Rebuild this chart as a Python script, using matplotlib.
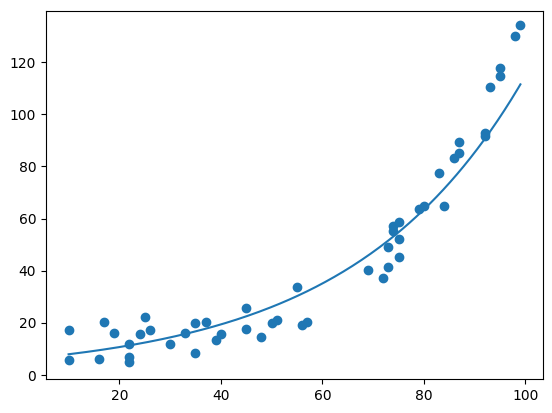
import numpy as np
import matplotlib
matplotlib.use("Agg")
import matplotlib.pyplot as plt

# Datos
x = [10, 10, 16, 17, 19, 22, 22, 22, 24, 25, 26, 30, 33, 35, 35, 37, 39, 40,
     45, 45, 48, 50, 51, 55, 56, 57, 69, 72, 73, 73, 75, 75, 74, 74, 75,
     79, 80, 84, 83, 86, 87, 87, 92, 92, 93, 95, 95, 98, 99]
y = [17.3, 5.8, 6.0, 20.5, 16.0, 11.8, 7.0, 5.1, 15.7, 22.2, 17.2, 11.8, 16.0,
     19.9, 8.3, 20.5, 13.5, 15.8, 25.7, 17.6, 14.5, 19.9, 21.0, 33.8, 19.2,
     20.3, 40.4, 37.2, 41.4, 49.0, 45.3, 52.2, 55.1, 57.0, 58.7, 63.8, 64.7,
     64.7, 77.6, 83.3, 85.0, 89.5, 91.7, 92.7, 110.3, 114.5, 117.6, 129.9,
     134.2]

# Parametros del ajuste exponencial y = a * exp(b * x)
fit_a = 5.95
fit_b = 0.0296

fig = plt.figure(figsize=(5.52, 4.13), dpi=100)
ax = fig.add_axes([0.0833, 0.0816, 0.9004, 0.8924])

ax.scatter(x, y)
xs = np.linspace(min(x), max(x), 200)
ax.plot(xs, fit_a * np.exp(fit_b * xs))
ax.set_ylim(-1.6, 139.7)

fig.savefig("out.png", dpi=100)
